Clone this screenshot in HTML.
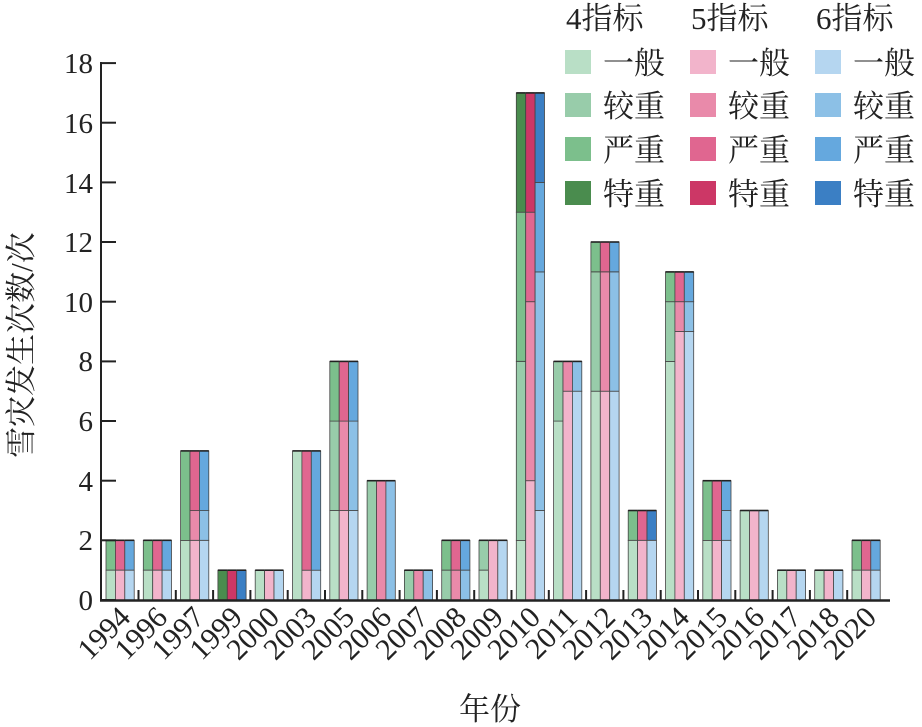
<!DOCTYPE html>
<html><head><meta charset="utf-8"><style>
body{margin:0;background:#fff}
svg{display:block}
text{font-family:"Liberation Serif","Noto Serif CJK SC",serif;fill:#222}
</style></head><body>
<svg id="s" width="922" height="727" viewBox="0 0 922 727" xmlns="http://www.w3.org/2000/svg">
<g id="bars"></g>
<line x1="101" y1="62" x2="101" y2="601" stroke="#222" stroke-width="2"/>
<line x1="100" y1="600.5" x2="890" y2="600.5" stroke="#222" stroke-width="2.5"/>
<g id="ticks" stroke="#222" stroke-width="2"></g>
<g font-size="29" text-anchor="end">
<text x="93" y="610">0</text><text x="93" y="550">2</text><text x="93" y="491">4</text>
<text x="93" y="431">6</text><text x="93" y="371">8</text><text x="93" y="312">10</text>
<text x="93" y="252">12</text><text x="93" y="193">14</text><text x="93" y="133">16</text>
<text x="93" y="73">18</text>
</g>
<g font-size="30" text-anchor="end">
<text transform="translate(132,619) rotate(-45)">1994</text>
<text transform="translate(169,619) rotate(-45)">1996</text>
<text transform="translate(206,619) rotate(-45)">1997</text>
<text transform="translate(244,619) rotate(-45)">1999</text>
<text transform="translate(281,619) rotate(-45)">2000</text>
<text transform="translate(318,619) rotate(-45)">2003</text>
<text transform="translate(356,619) rotate(-45)">2005</text>
<text transform="translate(393,619) rotate(-45)">2006</text>
<text transform="translate(430,619) rotate(-45)">2007</text>
<text transform="translate(468,619) rotate(-45)">2008</text>
<text transform="translate(505,619) rotate(-45)">2009</text>
<text transform="translate(542,619) rotate(-45)">2010</text>
<text transform="translate(579,619) rotate(-45)">2011</text>
<text transform="translate(617,619) rotate(-45)">2012</text>
<text transform="translate(654,619) rotate(-45)">2013</text>
<text transform="translate(691,619) rotate(-45)">2014</text>
<text transform="translate(729,619) rotate(-45)">2015</text>
<text transform="translate(766,619) rotate(-45)">2016</text>
<text transform="translate(803,619) rotate(-45)">2017</text>
<text transform="translate(841,619) rotate(-45)">2018</text>
<text transform="translate(878,619) rotate(-45)">2020</text>
</g>
<text x="490" y="720" font-size="31" text-anchor="middle">年份</text>
<text transform="translate(32,345) rotate(-90)" font-size="31" text-anchor="middle">雪灾发生次数/次</text>
<g font-size="31">
<text x="566" y="29">4指标</text><text x="691" y="29">5指标</text><text x="816" y="29">6指标</text>
<rect x="565" y="50" width="26" height="24" fill="#b9dfc6"/><text x="603" y="74">一般</text>
<rect x="565" y="93" width="26" height="24" fill="#98ccaa"/><text x="603" y="117">较重</text>
<rect x="565" y="137" width="26" height="24" fill="#7cbf8c"/><text x="603" y="161">严重</text>
<rect x="565" y="181" width="26" height="24" fill="#4a8c4e"/><text x="603" y="205">特重</text>
<rect x="690" y="50" width="26" height="24" fill="#f2b4cb"/><text x="728" y="74">一般</text>
<rect x="690" y="93" width="26" height="24" fill="#e98aaa"/><text x="728" y="117">较重</text>
<rect x="690" y="137" width="26" height="24" fill="#e06690"/><text x="728" y="161">严重</text>
<rect x="690" y="181" width="26" height="24" fill="#cc3766"/><text x="728" y="205">特重</text>
<rect x="815" y="50" width="26" height="24" fill="#b5d6f0"/><text x="853" y="74">一般</text>
<rect x="815" y="93" width="26" height="24" fill="#8cc0e6"/><text x="853" y="117">较重</text>
<rect x="815" y="137" width="26" height="24" fill="#65a8de"/><text x="853" y="161">严重</text>
<rect x="815" y="181" width="26" height="24" fill="#3b7fc4"/><text x="853" y="205">特重</text>
</g>
</svg>
<script>
var C=[["#b9dfc6","#98ccaa","#7cbf8c","#4a8c4e"],["#f2b4cb","#e98aaa","#e06690","#cc3766"],["#b5d6f0","#8cc0e6","#65a8de","#3b7fc4"]];
var D=[
[[1,0,1,0],[1,0,1,0],[1,0,1,0]],
[[1,0,1,0],[1,0,1,0],[1,0,1,0]],
[[2,0,3,0],[2,1,2,0],[2,1,2,0]],
[[0,0,0,1],[0,0,0,1],[0,0,0,1]],
[[1,0,0,0],[1,0,0,0],[1,0,0,0]],
[[5,0,0,0],[1,0,4,0],[1,0,4,0]],
[[3,3,2,0],[3,3,2,0],[3,3,2,0]],
[[0,4,0,0],[0,4,0,0],[0,4,0,0]],
[[0,1,0,0],[0,1,0,0],[0,1,0,0]],
[[0,1,1,0],[0,1,1,0],[0,1,1,0]],
[[1,1,0,0],[2,0,0,0],[2,0,0,0]],
[[2,6,5,4],[4,6,3,4],[3,8,3,3]],
[[6,2,0,0],[7,1,0,0],[7,1,0,0]],
[[7,4,1,0],[7,4,1,0],[7,4,1,0]],
[[2,0,1,0],[2,0,1,0],[2,0,0,1]],
[[8,2,1,0],[9,1,1,0],[9,1,1,0]],
[[2,0,2,0],[2,0,2,0],[2,1,1,0]],
[[3,0,0,0],[3,0,0,0],[3,0,0,0]],
[[1,0,0,0],[1,0,0,0],[1,0,0,0]],
[[1,0,0,0],[1,0,0,0],[1,0,0,0]],
[[1,0,1,0],[1,0,1,0],[1,0,1,0]]];
var u=29.83,y0=600,h="",t="";
for(var i=0;i<D.length;i++){var g=106+37.3*i;
for(var j=0;j<3;j++){var x=g+j*9.4,c=0;
for(var k=0;k<4;k++){var v=D[i][j][k];if(!v)continue;
var yt=y0-(c+v)*u,yb=y0-c*u;
h+='<rect x="'+x.toFixed(1)+'" y="'+yt.toFixed(1)+'" width="9.4" height="'+(yb-yt).toFixed(1)+'" fill="'+C[j][k]+'" stroke="#444" stroke-width="0.8"/>';
c+=v;}
h+='<line x1="'+x.toFixed(1)+'" x2="'+(x+9.4).toFixed(1)+'" y1="'+(y0-c*u).toFixed(1)+'" y2="'+(y0-c*u).toFixed(1)+'" stroke="#222" stroke-width="1.6"/>';}
if(i<D.length-1)t+='<line x1="'+(g+32.5).toFixed(1)+'" x2="'+(g+32.5).toFixed(1)+'" y1="590" y2="600"/>';}
for(var v=0;v<=18;v+=2){var y=y0-v*u;t+='<line x1="101" x2="116" y1="'+y.toFixed(1)+'" y2="'+y.toFixed(1)+'"/>';}
document.getElementById("bars").innerHTML=h;
document.getElementById("ticks").innerHTML=t;
</script>
</body></html>
